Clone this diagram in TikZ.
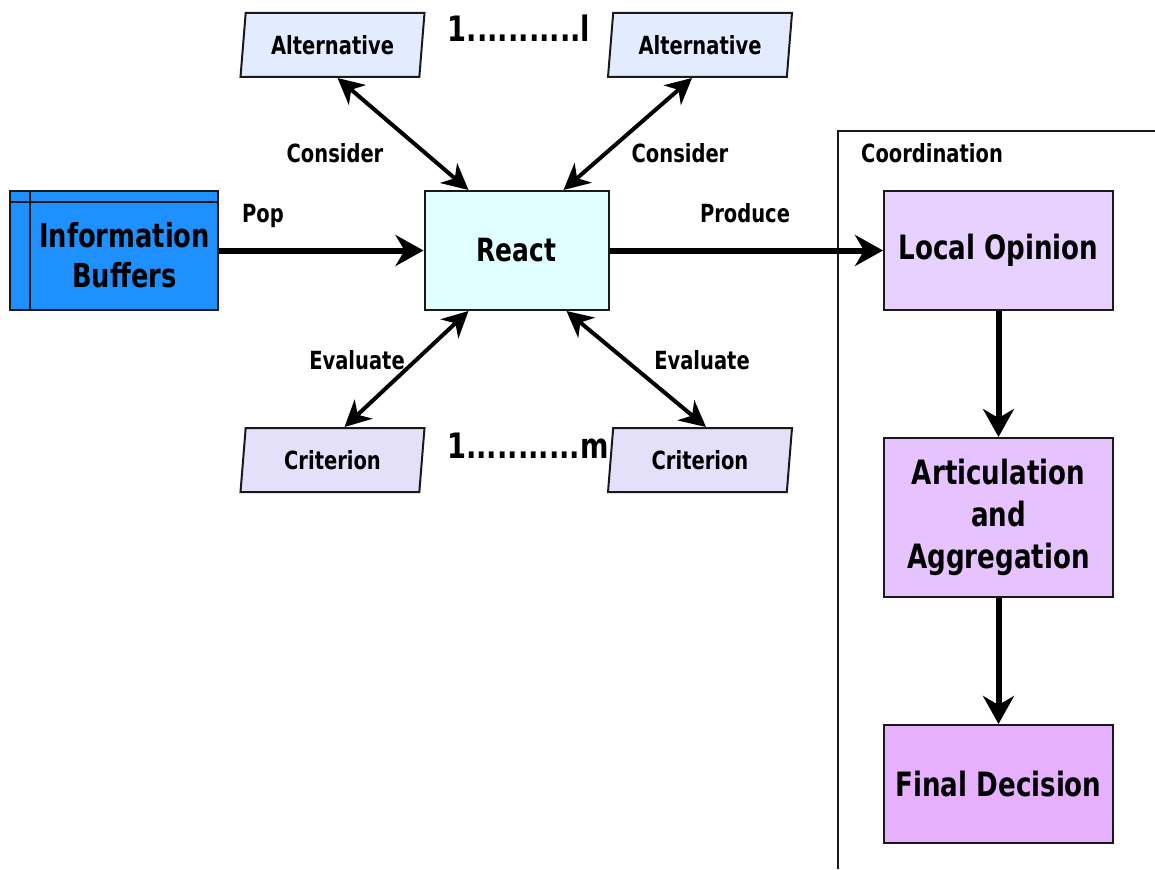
\documentclass[tikz,border=0pt]{standalone}
\usepackage{fontspec}
\setmainfont{DejaVu Sans}[FakeStretch=0.78]
\usetikzlibrary{arrows.meta,shapes.geometric}
\definecolor{infofill}{RGB}{30,144,255}
\definecolor{reactfill}{RGB}{224,255,255}
\definecolor{altfill}{RGB}{227,236,255}
\definecolor{critfill}{RGB}{228,224,250}
\definecolor{localfill}{RGB}{232,208,255}
\definecolor{artfill}{RGB}{230,195,255}
\definecolor{finalfill}{RGB}{230,176,255}
\definecolor{edge}{RGB}{25,25,25}
\tikzset{
  box/.style={draw=edge, line width=2pt, align=center, inner sep=0pt, font=\bfseries\fontsize{33.5}{42}\selectfont},
  para/.style={trapezium, trapezium left angle=75, trapezium right angle=105, trapezium stretches body,
    draw=edge, line width=2pt, minimum width=184pt, minimum height=64pt, inner sep=0pt,
    font=\bfseries\fontsize{25}{30}\selectfont},
  lbl/.style={font=\bfseries\fontsize{25}{30}\selectfont, text height=0.73em, text depth=0pt, inner sep=0pt},
  dots/.style={font=\bfseries\fontsize{35}{40}\selectfont, text height=0.73em, text depth=0pt, inner sep=0pt},
  big/.style={line width=6pt, -{Stealth[length=28pt,width=31pt,inset=9pt]}},
  dbl/.style={line width=4pt, {Stealth[length=26pt,width=26pt,inset=8pt]}-{Stealth[length=26pt,width=26pt,inset=8pt]}},
  frame/.style={draw=edge, line width=2pt}
}
\begin{document}
\begin{tikzpicture}[x=1pt,y=-1pt]
\useasboundingbox (0,0) rectangle (1155,869);

% coordination frame
\coordinate (fbl) at (838,869);
\coordinate (ftl) at (838,131);
\coordinate (ftr) at (1155,131);
\draw[frame] (fbl) -- (ftl) -- (ftr);
\node[lbl, anchor=west] (coord) at (861,159) {Coordination};

% information buffers
\node[box, fill=infofill, minimum width=208pt, minimum height=119pt] (info) at (114,250.5) {};
\draw[draw=edge, line width=2pt] (info.north west) ++(0,12) coordinate (ihl) -- (ihl -| info.east);
\draw[draw=edge, line width=2pt] (info.north west) ++(21,0) coordinate (ivt) -- (ivt |- info.south);
\node[font=\bfseries\fontsize{33}{40}\selectfont, align=center, inner sep=0pt] (infotext) at (124.5,255) {Information\\Buffers};

% react
\node[box, fill=reactfill, minimum width=184pt, minimum height=119pt, font=\bfseries\fontsize{32}{38}\selectfont] (react) at (516.5,250.5) {React};

% right column
\node[box, fill=localfill, minimum width=229pt, minimum height=119pt] (local) at (998.5,250.5) {Local Opinion};
\node[box, fill=artfill, minimum width=229pt, minimum height=159pt] (art) at (998.5,517.5) {Articulation\\and\\Aggregation};
\node[box, fill=finalfill, minimum width=229pt, minimum height=118pt] (final) at (998.5,784) {Final Decision};

% alternatives and criteria
\node[para, fill=altfill] (altL) at (332.5,45) {Alternative};
\node[para, fill=altfill] (altR) at (700,45) {Alternative};
\node[para, fill=critfill] (critL) at (332.5,460) {Criterion};
\node[para, fill=critfill] (critR) at (700,460) {Criterion};

\node[dots] (dotsA) at (519,38) {1...........l};
\node[dots] (dotsC) at (528,455) {1...........m};

% labels
\node[lbl] (pop) at (263,219) {Pop};
\node[lbl] (produce) at (745,219) {Produce};
\node[lbl] (consL) at (335,159) {Consider};
\node[lbl] (consR) at (680,159) {Consider};
\node[lbl] (evalL) at (357,366) {Evaluate};
\node[lbl] (evalR) at (702,366) {Evaluate};

% connectors
\draw[big] (info.east) -- (react.west);
\draw[big] (react.east) -- (local.west);
\draw[big] (local.south) -- (art.north);
\draw[big] (art.south) -- (final.north);

\draw[dbl] ([xshift=5pt]altL.south) -- ([xshift=-48pt]react.north);
\draw[dbl] ([xshift=-8pt]altR.south) -- ([xshift=47pt]react.north);
\draw[dbl] ([xshift=-48pt]react.south) -- ([xshift=12pt]critL.north);
\draw[dbl] ([xshift=50pt]react.south) -- ([xshift=6pt]critR.north);
\end{tikzpicture}
\end{document}
